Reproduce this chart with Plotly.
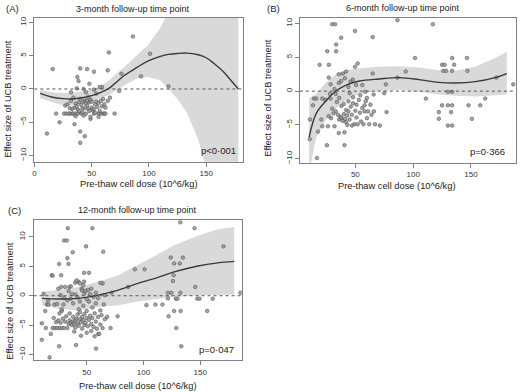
import plotly.graph_objects as go

# ---------------- Panel A: 3-month ----------------
a_dose = [86, 101, 65, 16, 40, 46, 52, 64, 37.5, 38.5, 76, 93, 48, 59, 37, 117, 43, 52, 74, 32, 45, 54, 57,
          11, 22, 35, 19, 40, 40, 44, 49, 70, 66, 62, 31,
          26, 28, 30, 33, 34, 36, 38, 41, 45, 52, 56, 58, 60, 61, 62,
          27, 29, 32, 33, 35, 36, 37, 38, 39, 40, 41, 42, 43, 44, 45, 46, 47, 48, 49, 50,
          51, 52, 53, 54, 55, 56, 57, 58, 59, 60,
          44, 46, 48, 42, 39, 34, 31, 50, 47, 53, 36, 43, 49, 56, 64, 61]
a_effect = [7.9, 5.3, 5.5, 3.0, 3.1, 3.0, 2.6, 2.8, 1.8, 1.2, 2.3, 1.9, 0.8, 0.3, 0.1, 0.4, 0.0, -0.1, -0.3, -0.5, -0.5, -0.7, 0.3,
            -6.7, -5.0, -5.3, -3.7, -6.4, -8.1, -7.1, -4.5, -3.7, -1.3, -2.8, -3.7,
            -3.7, -3.7, -3.7, -3.7, -3.7, -3.7, -3.7, -3.7, -3.7, -3.7, -3.7, -3.7, -3.7, -3.7, -3.7,
            -2.5, -2.3, -1.8, -3.0, -2.8, -2.2, -2.6, -3.1, -2.0, -1.5, -2.4, -2.9, -1.9, -1.7, -2.2, -2.5, -3.0, -2.0, -1.6, -2.8,
            -3.2, -3.0, -2.3, -1.9, -2.7, -2.1, -3.3, -1.8, -2.6, -1.5,
            -2.9, -1.8, -3.3, -3.5, -3.3, -1.3, -2.9, -1.9, -1.2, -3.6, -4.1, -4.0, -4.2, -4.2, -1.8, -2.3]
a_fit_x = [5, 15, 25, 32, 40, 50, 58, 65, 79, 90, 99, 110, 117, 125, 133, 143, 150, 157, 165, 172, 178]
a_fit_y = [-0.65, -1.2, -1.45, -1.5, -1.35, -1.0, -0.5, 0.1, 2.1, 3.3, 4.2, 4.9, 5.2, 5.35, 5.4, 5.15, 4.7, 3.8, 2.6, 1.2, 0.0]
a_upper = [-0.1, -0.5, -0.6, -0.6, -0.4, -0.1, 0.4, 1.3, 3.4, 5.1, 6.6, 9.2, 11.5, 14, 17, 21, 24, 27, 29, 31, 32]
a_lower = [-1.4, -2.0, -2.5, -2.5, -2.3, -1.9, -1.4, -0.9, 0.6, 1.6, 1.8, 1.3, 0.0, -1.5, -3.5, -7.6, -12, -17, -22, -26, -29]

# ---------------- Panel B: 6-month ----------------
b_dose = [86.4, 117, 30, 32.5, 49.7, 37.7, 65, 33.4, 25.7, 33.4, 101.6, 133.7, 146.5, 19.1, 27.1, 125, 127.3, 135.4, 52, 49.7,
          42, 39.2, 35.7, 93.6, 126, 128.5, 133.7, 147, 65, 27, 47.7, 45.7, 76.4, 86.4, 172, 186.6, 28.6, 35.7, 37.7, 50.6,
          54.3, 58.6, 65.8, 75, 111, 158, 162.3, 130, 133.7, 147.9, 125, 130, 133.7, 122.2, 132.8, 122.2, 150.8, 130, 133.7,
          10.8, 10.5, 17.7, 25.4, 40.6, 16.8, 35.7, 40.6, 77, 71.2, 14.2, 16.2, 21.4, 28.5, 13.4, 20.5, 21.4, 26.3, 32, 27,
          30, 33, 35, 36, 37, 38, 38, 39, 40, 40, 41, 42, 42, 43, 44, 44, 45, 46, 47, 48,
          49, 50, 51, 52, 53, 54, 55, 56, 57, 58, 59, 60, 61, 62, 63, 64, 66, 67, 34, 31,
          29, 36, 45, 48, 51, 47, 43, 58, 32, 41, 44, 28, 24, 33, 56, 60]
b_effect = [10.5, 9.9, 9.9, 9.9, 8.9, 7.9, 8.0, 6.9, 5.9, 5.9, 4.9, 4.9, 4.9, 3.9, 3.9, 3.9, 3.9, 3.9, 4.1, 3.6,
            2.9, 2.6, 2.5, 2.9, 3.0, 3.0, 3.0, 3.0, 2.6, 2.0, 1.7, 1.4, 1.0, 2.0, 2.0, 1.0, 1.0, 1.2, 1.5, 0.9,
            -0.6, -0.1, -0.5, -0.3, -1.1, -2.1, -1.1, -0.1, -0.1, -2.1, -2.1, -2.1, -2.1, -3.1, -3.1, -4.1, -4.1, -5.1, -5.1,
            -4.2, -7.1, -6.0, -8.0, -8.0, -9.9, -6.2, -6.1, -3.1, -5.1, -1.1, -1.1, -1.1, -1.1, -2.1, -4.2, -5.2, -5.2, -5.2, -3.7,
            -2.6, -3.0, -3.5, -4.2, -3.8, -4.0, -2.2, -4.4, -3.4, -1.9, -4.1, -2.8, -4.6, -3.6, -1.5, -3.0, -4.2, -2.3, -3.5, -1.8,
            -4.9, -2.9, -3.9, -4.9, -1.3, -3.2, -4.5, -2.5, -4.9, -3.0, -1.5, -4.0, -3.0, -4.9, -2.0, -3.5, -3.0, -4.9, -1.6, -3.3,
            -4.0, -1.0, -0.3, -0.9, -2.0, -5.1, -5.0, -2.1, 0.3, 1.9, 0.6, -0.4, -1.3, -0.4, 0.9, -1.0]
b_fit_x = [10, 16.2, 24.8, 33.4, 42, 53.5, 70.6, 87.8, 105, 122, 136.5, 153.7, 170.9, 181]
b_fit_y = [-6.8, -3.3, -1.4, 0.05, 0.9, 1.5, 1.8, 2.0, 1.7, 1.3, 1.2, 1.4, 2.0, 2.6]
b_upper = [-1.0, -0.4, 1.3, 2.5, 3.1, 3.4, 3.6, 3.7, 3.5, 3.1, 3.0, 3.6, 4.9, 5.8]
b_lower = [-12, -6.8, -4.2, -2.5, -1.3, -0.4, 0.0, 0.2, -0.1, -0.5, -0.7, -0.8, -0.6, -0.5]

# ---------------- Panel C: 12-month ----------------
c_dose = [33.3, 55, 30.1, 32.5, 49.4, 64.6, 37.7, 33, 25.7, 33.9, 19.3, 27.5, 47.7, 52, 27.5, 34.8, 39.8, 42.7, 45.6, 47.7,
          64, 86.5, 92.4, 101, 124, 127, 132, 134.8, 145, 132.5, 170.5, 126.6, 126, 145.6, 121.6, 124.6, 132.5, 185.4,
          121.6, 128.5, 130, 147.4, 149.4, 161, 110.5, 116.7, 102.6, 77.2, 122.2, 127, 132.7, 156.1, 128.9, 133.3,
          58.2, 40.6, 25.7, 17.3, 10.5, 10.5, 18.4, 14, 14.9, 16.4, 21.6, 29.5, 13.5, 28, 71, 60.2, 12, 16,
          20, 22, 24, 26, 28, 30, 33, 23, 25, 27, 29, 31, 32, 34, 35, 36, 37, 38, 38, 39,
          40, 40, 41, 42, 42, 43, 44, 44, 45, 46, 46, 47, 48, 48, 49, 50, 50, 51, 52, 53,
          54, 54, 55, 56, 57, 58, 59, 60, 61, 62, 63, 64, 66, 57, 35, 39, 45, 50, 43, 47,
          52, 55, 58, 60, 62, 65, 68, 36, 33, 38, 40, 42, 44, 48, 50, 53, 56, 30, 27, 24,
          34, 37, 46, 51, 28, 26, 21,
          20, 25, 31, 36, 41, 44, 47, 49, 54, 58, 62, 66, 72]
c_effect = [11.5, 11.5, 9.4, 9.4, 8.4, 7.5, 7.4, 6.4, 5.4, 5.4, 3.5, 3.5, 3.9, 3.9, 1.5, 1.5, 2.2, 2.4, 1.2, 2.4,
            2.1, 1.5, 4.5, 4.5, 6.5, 5.5, 5.5, 6.5, 11.5, 12.5, 8.4, 3.5, 2.5, 1.5, 0.5, 0.5, 0.5, 0.5,
            -0.45, -0.5, -0.5, -0.5, -0.5, -0.5, -1.5, -1.5, -1.6, -3.5, -3.5, -2.6, -2.6, -2.6, -5.5, -8.6,
            -9.0, -8.4, -8.6, -10.5, -7.5, -4.7, -6.5, -5.5, -1.5, -1.5, -1.5, -1.5, -2.6, -2.6, -5.5, -6.5, 0.3, -0.8,
            -5.5, -5.5, -5.5, -5.5, -5.5, -5.5, -5.5, -4.5, -4.2, -4.6, -3.9, -4.4, -3.5, -4.8, -4.2, -4.6, -5.0, -4.4, -3.6, -4.8,
            -4.2, -5.4, -3.9, -4.7, -3.2, -5.1, -4.0, -2.8, -4.5, -3.6, -5.6, -4.2, -3.1, -5.0, -4.6, -3.8, -2.6, -5.2, -4.1, -3.4,
            -4.8, -6.0, -3.8, -5.3, -3.0, -4.4, -5.6, -3.6, -6.5, -4.9, -3.3, -5.5, -4.0, -6.9, -3.0, -6.1, -6.8, -6.3, -2.3, -1.7,
            -1.0, -2.0, -1.3, -0.4, -2.5, -1.5, -3.6, -0.5, -0.8, -1.3, 0.2, -0.3, -1.0, 0.4, -0.6, 0.3, -0.2, -0.4, 0.1, -1.4,
            0.8, 0.3, 0.9, 1.0, -2.3, -3.0, -3.8,
            3.4, 1.2, 1.5, 1.6, 2.6, 2.1, 1.8, 0.8, 1.2, 0.5, 2.2, 0.1, 0.5]
c_fit_x = [10.5, 25, 42.7, 60, 77.8, 95, 111, 127, 148, 165.5, 180]
c_fit_y = [-0.45, -0.56, -0.45, 0.1, 0.96, 2.1, 3.0, 4.05, 5.07, 5.6, 5.85]
c_upper = [0.7, 0.96, 1.5, 2.4, 3.5, 5.2, 6.9, 8.6, 10.2, 11.3, 11.7]
c_lower = [-1.6, -2.2, -2.5, -1.9, -1.6, -1.0, -0.56, -0.17, 0.1, 0.2, 0.2]

titles = ["3-month follow-up time point", "6-month follow-up time point", "12-month follow-up time point"]
letters = ["(A)", "(B)", "(C)"]
pvals = ["p<0·001", "p=0·366", "p=0·047"]
xlabel = "Pre-thaw cell dose (10^6/kg)"
ylabel = "Effect size of UCB treatment"

W, H = 520, 392
def px(v):
    return v / W
def py(v):
    return 1 - v / H

FONT = "Liberation Sans, Arial, Helvetica, sans-serif"
fig = go.Figure()

panels = [
    ("x", "y", a_dose, a_effect, a_fit_x, a_fit_y, a_upper, a_lower),
    ("x2", "y2", b_dose, b_effect, b_fit_x, b_fit_y, b_upper, b_lower),
    ("x3", "y3", c_dose, c_effect, c_fit_x, c_fit_y, c_upper, c_lower),
]
for xa, ya, dose, eff, fx, fy, up, lo in panels:
    fig.add_trace(go.Scatter(x=list(fx) + list(fx)[::-1], y=list(up) + list(lo)[::-1],
                             fill="toself", fillcolor="#d9d9d9", line=dict(width=0),
                             mode="lines", hoverinfo="skip", xaxis=xa, yaxis=ya, showlegend=False))
    fig.add_trace(go.Scatter(x=dose, y=eff, mode="markers", xaxis=xa, yaxis=ya, showlegend=False,
                             marker=dict(size=3.6, color="rgba(150,150,150,0.85)",
                                         line=dict(width=0.6, color="rgba(70,70,70,0.85)"))))
    fig.add_trace(go.Scatter(x=fx, y=fy, mode="lines", xaxis=xa, yaxis=ya, showlegend=False,
                             line=dict(color="#3a3a3a", width=1.4, shape="spline")))
    fig.add_shape(type="line", xref=f"{xa} domain", yref=ya, x0=0, x1=1, y0=0, y1=0,
                  line=dict(color="#555555", width=1, dash="3px,3px"), layer="above")

def xax(domain, rng, ticks, anchor):
    return dict(domain=domain, range=rng, tickvals=ticks, anchor=anchor, showline=True, mirror=True,
                linecolor="#808080", linewidth=1, ticks="outside", ticklen=4, tickcolor="#808080",
                tickfont=dict(size=8, color="#333", family=FONT), showgrid=False, zeroline=False)

def yax(domain, rng, anchor):
    return dict(domain=domain, range=rng, tickvals=[-10, -5, 0, 5, 10], anchor=anchor, showline=True,
                mirror=True, linecolor="#808080", linewidth=1, ticks="outside", ticklen=4,
                tickcolor="#808080", tickangle=-90,
                tickfont=dict(size=8, color="#333", family=FONT), showgrid=False, zeroline=False)

ann = []
def text(t, x, y, size, xanchor="center", angle=0):
    ann.append(dict(text=t, x=px(x), y=py(y), xref="paper", yref="paper", showarrow=False,
                    xanchor=xanchor, yanchor="middle", textangle=angle,
                    font=dict(size=size, color="#222", family=FONT)))

text(letters[0], 11, 7, 9.5)
text(titles[0], 132, 7, 9)
text(letters[1], 273, 7, 9.5)
text(titles[1], 402.7, 6.5, 9)
text(letters[2], 12.5, 210, 9.5)
text(titles[2], 136, 210, 9)
text(xlabel, 137.5, 183, 9.3)
text(xlabel, 396.3, 185, 9.3)
text(xlabel, 136.7, 386.5, 9.3)
text(ylabel, 6.5, 97, 9.3, angle=-90)
text(ylabel, 267, 96.5, 9.3, angle=-90)
text(ylabel, 8, 301, 9.3, angle=-90)
text(pvals[0], 237, 150, 9.5, xanchor="right")
text(pvals[1], 507, 150.7, 9.5, xanchor="right")
text(pvals[2], 235, 350, 9.5, xanchor="right")

fig.update_layout(
    width=W, height=H, margin=dict(l=0, r=0, t=0, b=0),
    paper_bgcolor="white", plot_bgcolor="white",
    xaxis=xax([px(32.5), px(241.5)], [0, 181.7], [0, 50, 100, 150], "y"),
    yaxis=yax([py(161), py(16)], [-10.95, 10.7], "x"),
    xaxis2=xax([px(299), px(515.7)], [2, 188.7], [50, 100, 150], "y2"),
    yaxis2=yax([py(162), py(16)], [-10.6, 10.84], "x2"),
    xaxis3=xax([px(31.7), px(240.7)], [3.2, 186.6], [50, 100, 150], "y3"),
    yaxis3=yax([py(361), py(220)], [-10.98, 12.84], "x3"),
    annotations=ann,
)
fig.write_html("out.html", config={"displayModeBar": False},
               post_script="document.body.style.margin='0';document.body.style.padding='0';")
